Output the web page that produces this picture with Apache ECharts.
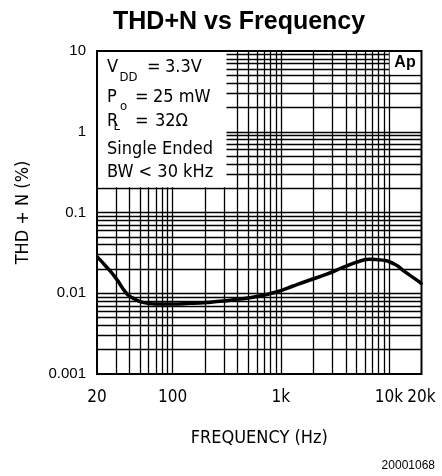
<!DOCTYPE html>
<html><head><meta charset="utf-8">
<script src="https://cdn.jsdelivr.net/npm/echarts@6/dist/echarts.min.js"></script>
<style>html,body{margin:0;padding:0;background:#fff}#c{width:442px;height:476px}</style>
</head><body><div id="c"></div>
<script>
// ---- data ----
const frequencyHz = [20, 24.4, 30, 37.4, 43, 53, 70, 100, 144, 206, 293, 418, 600, 800, 1000, 1300, 1860, 2660, 3800, 5440, 6700, 8300, 11200, 14000, 19500, 20000];
const thdPercent  = [0.0284, 0.0213, 0.0153, 0.0100, 0.0087, 0.0077, 0.00736, 0.00736, 0.0075, 0.0077, 0.0080, 0.0085, 0.0091, 0.0099, 0.0108, 0.0123, 0.0146, 0.0172, 0.0210, 0.0251, 0.0263, 0.0259, 0.0230, 0.0185, 0.0135, 0.0128];
const xTickValues = [20, 100, 1000, 10000, 20000];
const xTickLabels = ['20', '100', '1k', '10k', '20k'];
const yTickValues = [0.001, 0.01, 0.1, 1, 10];
const yTickLabels = ['0.001', '0.01', '0.1', '1', '10'];
const xGridValues = [30, 40, 50, 60, 70, 80, 90, 100, 200, 300, 400, 500, 600, 700, 800, 900, 1000, 2000, 3000, 4000, 5000, 6000, 7000, 8000, 9000, 10000];
const yGridValues = [0.002, 0.003, 0.004, 0.005, 0.006, 0.007, 0.008, 0.009, 0.01, 0.02, 0.03, 0.04, 0.05, 0.06, 0.07, 0.08, 0.09, 0.1, 0.2, 0.3, 0.4, 0.5, 0.6, 0.7, 0.8, 0.9, 1, 2, 3, 4, 5, 6, 7, 8, 9];
const titleText = 'THD+N vs Frequency';
const xAxisName = 'FREQUENCY (Hz)';
const yAxisName = 'THD + N (%)';
const figureId = '20001068';
// legend box extents in data units [x0, y0, x1, y1]
const textBox = [20, 10, 315, 0.205];
const apBox = [10150, 10, 20000, 5.1];

const AP = '"DejaVu Sans Condensed", "DejaVu Sans", sans-serif';
const xMin = 20, xMax = 20000, yMin = 0.001, yMax = 10;
function lookup(vals, labels, v) {
  for (let i = 0; i < vals.length; i++) if (Math.abs(Math.log10(v) - Math.log10(vals[i])) < 0.01) return labels[i];
  return '';
}
const chart = echarts.init(document.getElementById('c'), null, {renderer: 'canvas'});
const gridSegments = xGridValues.map(v => ({coords: [[v, yMin], [v, yMax]]}))
  .concat(yGridValues.map(v => ({coords: [[xMin, v], [xMax, v]]})));
const apFont = '18px "DejaVu Sans Condensed", "DejaVu Sans"';
const subFont = '13px "DejaVu Sans Condensed", "DejaVu Sans"';
function t(text, x, y, font, align) {
  return {type: 'text', x: x, y: y, z: 100, silent: true,
    style: {text: text, font: font, fill: '#000', align: align || 'left', verticalAlign: 'middle'}};
}
chart.setOption({
  animation: false,
  backgroundColor: '#fff',
  title: {text: titleText, left: 108, top: 5,
    textStyle: {fontFamily: '"Liberation Sans", Arial, sans-serif', fontWeight: 'bold', fontSize: 25, color: '#000'}},
  grid: {left: 97, top: 51, right: 20.5, bottom: 102, show: true, z: 60,
    borderColor: '#000', borderWidth: 2, backgroundColor: 'transparent'},
  xAxis: {type: 'log', logBase: 10, min: xMin, max: xMax,
    name: xAxisName, nameLocation: 'middle', nameGap: 55,
    nameTextStyle: {fontFamily: AP, fontSize: 18, color: '#000'},
    axisLine: {show: false}, axisTick: {show: false}, splitLine: {show: false},
    axisLabel: {margin: 15, fontFamily: AP, fontSize: 17, color: '#000',
      showMinLabel: true, showMaxLabel: true,
      formatter: v => lookup(xTickValues, xTickLabels, v)}},
  yAxis: {type: 'log', logBase: 10, min: yMin, max: yMax,
    name: yAxisName, nameLocation: 'middle', nameGap: 65, nameRotate: 90,
    nameTextStyle: {fontFamily: AP, fontSize: 18, color: '#000'},
    axisLine: {show: false}, axisTick: {show: false}, splitLine: {show: false},
    axisLabel: {margin: 11, fontFamily: '"Liberation Sans", Arial, sans-serif', fontSize: 15, color: '#000',
      formatter: v => lookup(yTickValues, yTickLabels, v)}},
  series: [
    {type: 'lines', coordinateSystem: 'cartesian2d', z: 1, silent: true,
      lineStyle: {color: '#000', width: 1.3, opacity: 1, curveness: 0},
      data: gridSegments},
    {type: 'line', z: 4, name: 'THD+N', data: frequencyHz.map((f, i) => [f, thdPercent[i]]),
      showSymbol: false, smooth: 0.5,
      lineStyle: {color: '#000', width: 3.5}}
  ]
});
function boxRect(b) {
  const p0 = chart.convertToPixel({gridIndex: 0}, [b[0], b[1]]);
  const p1 = chart.convertToPixel({gridIndex: 0}, [b[2], b[3]]);
  return {type: 'rect', z: 50, silent: true,
    shape: {x: Math.min(p0[0], p1[0]), y: Math.min(p0[1], p1[1]), width: Math.abs(p1[0] - p0[0]), height: Math.abs(p1[1] - p0[1])},
    style: {fill: '#fff', stroke: null}};
}
chart.setOption({
  graphic: [
    boxRect(textBox), boxRect(apBox),
    t('V', 107, 67, apFont), t('DD', 119.5, 78, subFont), t('=', 147, 67, apFont), t('3.3V', 165, 67, apFont),
    t('P', 107, 97, apFont), t('o', 120, 107, subFont), t('=', 135, 97, apFont), t('25 mW', 153, 97, apFont),
    t('R', 107, 121, apFont), t('L', 113.5, 127, subFont), t('=', 135, 121, apFont), t('32Ω', 155, 121, apFont),
    t('Single Ended', 107, 149, apFont),
    t('BW < 30 kHz', 107, 172, apFont),
    t('Ap', 405, 63, 'bold 16px "Liberation Sans", Arial, sans-serif', 'center'),
    t(figureId, 435, 466, '12px "Liberation Sans", Arial, sans-serif', 'right')
  ]
});
</script></body></html>
